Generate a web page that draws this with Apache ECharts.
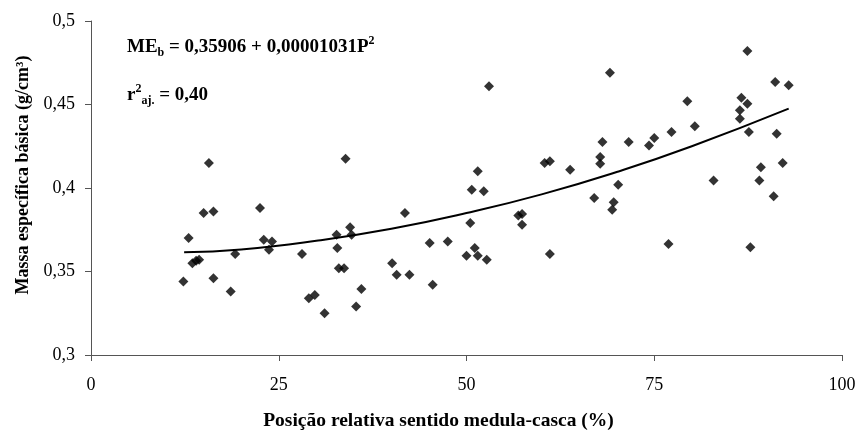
<!DOCTYPE html>
<html>
<head>
<meta charset="utf-8">
<script src="https://cdn.jsdelivr.net/npm/echarts@6/dist/echarts.min.js"></script>
<style>
  html, body { margin: 0; padding: 0; background: #fff; }
  #chart { width: 857px; height: 430px; }
</style>
</head>
<body>
<div id="chart"></div>
<script>
// posição relativa (%) e massa específica básica (g/cm3)
const posicao = [12.3, 13.0, 13.5, 14.0, 14.4, 15.0, 15.7, 16.3, 16.3, 18.6, 19.2, 22.5, 23.0, 23.7, 24.1,
    28.1, 29.0, 29.8, 31.1, 32.7, 32.8, 33.0, 33.7, 33.9, 34.5, 34.7, 35.3, 36.0,
    40.1, 40.7, 41.8, 42.4, 45.1, 45.5, 47.5, 50.0, 50.5, 50.7, 51.1, 51.5, 51.5, 52.3, 52.7, 53.0,
    56.9, 57.4, 57.4, 60.4, 61.1, 61.1, 63.8, 67.0, 67.8, 67.8, 68.1, 69.1, 69.4, 69.6, 70.2, 71.6,
    74.3, 75.0, 76.9, 77.3, 79.4, 80.4, 82.9, 86.4, 86.4, 86.6, 87.4, 87.4, 87.6, 87.8,
    89.0, 89.2, 90.9, 91.1, 91.3, 92.1, 92.9];
const massa = [0.344, 0.370, 0.355, 0.3565, 0.357, 0.385, 0.415, 0.386, 0.346, 0.338, 0.3605, 0.388, 0.369, 0.363, 0.368,
    0.3605, 0.334, 0.336, 0.325, 0.372, 0.364, 0.352, 0.352, 0.4175, 0.3765, 0.372, 0.329, 0.3395,
    0.355, 0.348, 0.385, 0.348, 0.367, 0.342, 0.368, 0.3595, 0.379, 0.399, 0.364, 0.3595, 0.410, 0.398, 0.357, 0.461,
    0.3835, 0.3845, 0.378, 0.415, 0.416, 0.3605, 0.411, 0.394, 0.4185, 0.4145, 0.4275, 0.469, 0.387, 0.3915, 0.402, 0.4275,
    0.4255, 0.430, 0.3665, 0.4335, 0.452, 0.437, 0.4045, 0.4415, 0.4465, 0.454, 0.4505, 0.482, 0.4335, 0.3645,
    0.4045, 0.4125, 0.395, 0.4635, 0.4325, 0.415, 0.4615];

// curva ajustada, pontos
const curvaX = [12.4, 20, 30, 40, 50, 60, 70, 80, 92.9];
const curvaY = [0.3616, 0.3632, 0.3684, 0.3756, 0.385, 0.3962, 0.4096, 0.425, 0.4475];

const xTicks = [0, 25, 50, 75, 100];
const yTicks = [0.3, 0.35, 0.4, 0.45, 0.5];

const serif = '"Liberation Serif", "DejaVu Serif", serif';

function virgula(v) {
    return String(+v.toFixed(2)).replace('.', ',');
}

let chart = echarts.init(document.getElementById('chart'), null, { renderer: 'canvas' });

let richTexto = {
    a: { fontFamily: serif, fontWeight: 'bold', fontSize: 19, lineHeight: 24, fill: '#000' },
    sub: { fontFamily: serif, fontWeight: 'bold', fontSize: 12, lineHeight: 13, verticalAlign: 'bottom', fill: '#000' },
    sup: { fontFamily: serif, fontWeight: 'bold', fontSize: 12, lineHeight: 13, verticalAlign: 'top', fill: '#000' }
};

let option = {
    backgroundColor: '#fff',
    animation: false,
    grid: { left: 91, right: 15, top: 21, bottom: 75, outerBoundsMode: 'none', containLabel: false },
    xAxis: {
        type: 'value',
        min: xTicks[0],
        max: xTicks[xTicks.length - 1],
        interval: 25,
        name: 'Posição relativa sentido medula-casca (%)',
        nameLocation: 'middle',
        nameGap: 56,
        nameTextStyle: { fontFamily: serif, fontWeight: 'bold', fontSize: 19.5, color: '#000', padding: [0, 56, 0, 0] },
        axisLine: { lineStyle: { color: '#555', width: 1 } },
        axisTick: { show: true, inside: false, length: 6, lineStyle: { color: '#555' } },
        axisLabel: { fontFamily: serif, fontSize: 18, color: '#000', margin: 21 },
        splitLine: { show: false }
    },
    yAxis: {
        type: 'value',
        min: yTicks[0],
        max: yTicks[yTicks.length - 1],
        interval: 0.05,
        name: 'Massa específica básica (g/cm³)',
        nameLocation: 'middle',
        nameGap: 59,
        nameTextStyle: { fontFamily: serif, fontWeight: 'bold', fontSize: 18, color: '#000', padding: [0, 0, 0, 26] },
        axisLine: { show: true, lineStyle: { color: '#555', width: 1 } },
        axisTick: { show: true, inside: false, length: 6, lineStyle: { color: '#555' } },
        axisLabel: { fontFamily: serif, fontSize: 18, color: '#000', margin: 16, formatter: virgula },
        splitLine: { show: false }
    },
    graphic: [
        {
            type: 'text',
            left: 127,
            top: 35,
            style: {
                text: '{a|ME}{sub|b}{a| = 0,35906 + 0,00001031P}{sup|2}',
                rich: richTexto
            }
        },
        {
            type: 'text',
            left: 127,
            top: 83,
            style: {
                text: '{a|r}{sup|2}{sub|aj.}{a| = 0,40}',
                rich: richTexto
            }
        }
    ],
    series: [
        {
            type: 'scatter',
            symbol: 'diamond',
            symbolSize: 10,
            itemStyle: { color: '#000' },
            data: posicao.map(function (x, i) { return [x, massa[i]]; })
        },
        {
            type: 'line',
            smooth: true,
            showSymbol: false,
            lineStyle: { color: '#000', width: 2 },
            data: curvaX.map(function (x, i) { return [x, curvaY[i]]; })
        }
    ]
};

option && chart.setOption(option);
</script>
</body>
</html>
